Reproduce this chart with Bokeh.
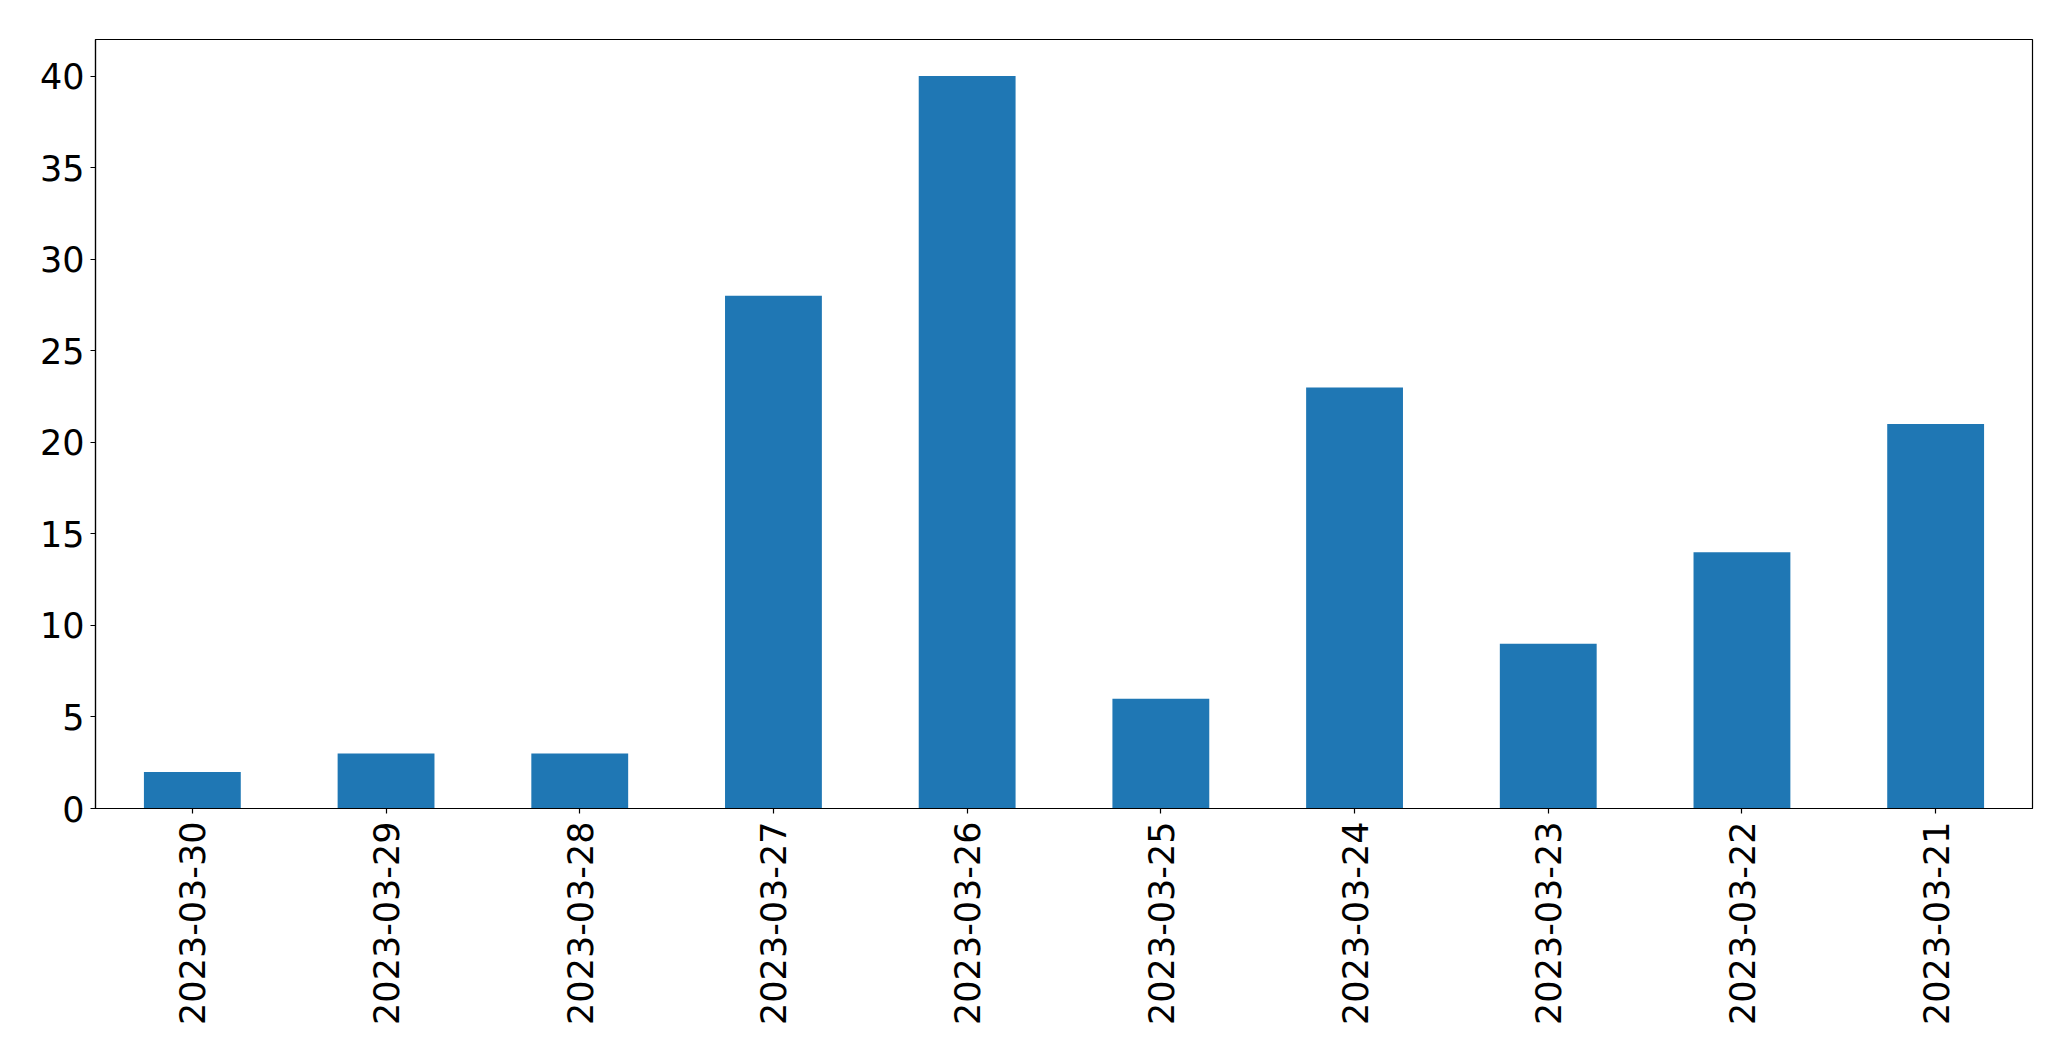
import math
from bokeh.plotting import figure
from bokeh.models import FactorRange, Range1d, FixedTicker
from bokeh.embed import file_html
from bokeh.resources import INLINE

dates = ["2023-03-30", "2023-03-29", "2023-03-28", "2023-03-27", "2023-03-26",
         "2023-03-25", "2023-03-24", "2023-03-23", "2023-03-22", "2023-03-21"]
counts = [2, 3, 3, 28, 40, 6, 23, 9, 14, 21]
y_ticks = [0, 5, 10, 15, 20, 25, 30, 35, 40]

p = figure(width=2055, height=1045, x_range=FactorRange(*dates), y_range=Range1d(0, 42),
           output_backend="svg", toolbar_location=None,
           min_border_left=95, min_border_top=39, min_border_right=23, min_border_bottom=237)
p.vbar(x=dates, top=counts, width=0.5, color="#1f77b4", line_color=None)

p.xgrid.visible = False
p.ygrid.visible = False
p.outline_line_color = "black"
p.outline_line_width = 1.2
p.outline_line_alpha = 1

for ax in (p.xaxis[0], p.yaxis[0]):
    ax.axis_line_color = "black"
    ax.axis_line_width = 1.2
    ax.major_tick_line_color = "black"
    ax.major_tick_line_width = 1.2
    ax.major_tick_out = 5
    ax.major_tick_in = 0
    ax.minor_tick_line_color = None
    ax.major_label_text_font = "DejaVu Sans"
    ax.major_label_text_font_size = "35px"
    ax.major_label_text_color = "black"

p.yaxis.ticker = FixedTicker(ticks=y_ticks)
p.yaxis.major_label_standoff = 6
p.xaxis.major_label_orientation = math.pi / 2
p.xaxis.major_label_standoff = 8

open("out.html", "w").write(file_html(p, INLINE))
